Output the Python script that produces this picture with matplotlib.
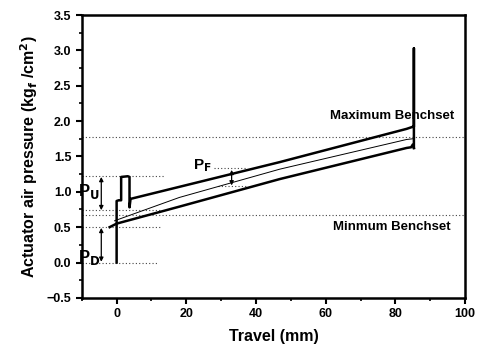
import numpy as np
from matplotlib import pyplot as plt
from matplotlib.ticker import MultipleLocator

plt.rcParams['font.family'] = ['Liberation Sans', 'DejaVu Sans']
plt.rcParams['font.weight'] = 'bold'

# upper (opening) stroke, including the start-up step and the end spike
upper_x = [0, 0, 0.6, 1.3, 1.3, 3.2, 3.7, 3.7, 4.0, 46.8, 83.2, 85.0, 85.3, 85.3, 85.3]
upper_y = [0.0, 0.87, 0.88, 0.88, 1.21, 1.22, 1.21, 0.78, 0.90, 1.42, 1.89, 1.92, 1.92, 3.03, 1.62]

# lower (closing) stroke
lower_x = [-2.0, 0.0, 18.0, 46.8, 83.2, 84.5, 85.0, 85.3]
lower_y = [0.50, 0.55, 0.79, 1.18, 1.62, 1.63, 1.67, 1.62]

# thin middle line
mid_x = [-0.6, 18.0, 46.8, 83.2, 85.0]
mid_y = [0.59, 0.92, 1.32, 1.74, 1.75]

max_bench = 1.77
min_bench = 0.67
# short reference lines: (y, x_start, x_end)
ref_lines = [(1.22, -10, 14), (0.74, -10, 12.4), (0.50, -10, 13), (0.0, -10, 12),
             (1.33, 28, 37), (1.08, 29, 37)]

fig = plt.figure(figsize=(4.81, 3.5), dpi=100)
ax = fig.add_axes([0.170, 0.149, 0.797, 0.808])

dot = dict(color='#444444', lw=0.8, ls=(0, (1, 2)))
ax.axhline(max_bench, **dot)
ax.axhline(min_bench, **dot)
for y, x0, x1 in ref_lines:
    ax.plot([x0, x1], [y, y], **dot)

ax.plot(upper_x, upper_y, color='black', lw=1.8)
ax.plot(lower_x, lower_y, color='black', lw=1.8)
ax.plot(mid_x, mid_y, color='black', lw=0.7)

arrow = dict(arrowstyle='<|-|>', color='black', lw=0.9, mutation_scale=6,
             shrinkA=0, shrinkB=0)
ax.annotate('', xy=(-4.4, 1.21), xytext=(-4.4, 0.74), arrowprops=arrow)
ax.annotate('', xy=(-4.4, 0.49), xytext=(-4.4, 0.01), arrowprops=arrow)
ax.annotate('', xy=(33, 1.31), xytext=(33, 1.09), arrowprops=arrow)

ax.text(-8.0, 1.0, 'P$_{\\mathbf{U}}$', fontsize=12, fontweight='bold', ha='center', va='center')
ax.text(-8.0, 0.07, 'P$_{\\mathbf{D}}$', fontsize=12, fontweight='bold', ha='center', va='center')
ax.text(24.7, 1.37, 'P$_{\\mathbf{F}}$', fontsize=11, fontweight='bold', ha='center', va='center')
ax.text(79, 2.07, 'Maximum Benchset', fontsize=9.5, fontweight='bold', ha='center', va='center')
ax.text(79, 0.5, 'Minmum Benchset', fontsize=9.5, fontweight='bold', ha='center', va='center')

ax.set_xlim(-10, 100)
ax.set_ylim(-0.5, 3.5)
ax.xaxis.set_major_locator(MultipleLocator(20))
ax.xaxis.set_minor_locator(MultipleLocator(10))
ax.yaxis.set_major_locator(MultipleLocator(0.5))
ax.yaxis.set_minor_locator(MultipleLocator(0.25))
ax.tick_params(which='major', direction='out', length=4, width=1.5, labelsize=9)
ax.tick_params(which='minor', direction='out', length=2.5, width=1.2)
for s in ax.spines.values():
    s.set_linewidth(1.8)
for lab in ax.get_xticklabels() + ax.get_yticklabels():
    lab.set_fontweight('bold')

ax.set_xlabel('Travel (mm)', fontsize=11.5, fontweight='bold', labelpad=6)
ax.set_ylabel('Actuator air pressure (kg$_{\\mathbf{f}}$ /cm$^{\\mathbf{2}}$)',
              fontsize=11.5, fontweight='bold', labelpad=5)

fig.savefig('out.png', dpi=100)
plt.close()
